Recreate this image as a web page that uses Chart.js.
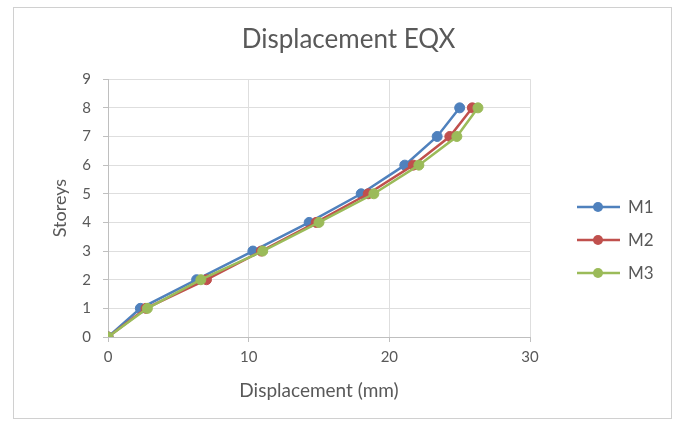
<!DOCTYPE html>
<html>
<head>
<meta charset="utf-8">
<script src="https://cdn.jsdelivr.net/npm/chart.js@4/dist/chart.umd.min.js"></script>
<style>
  html, body { margin: 0; padding: 0; background: #ffffff; }
  #wrap { width: 683px; height: 421px; }
</style>
</head>
<body>
<div id="wrap"><canvas id="c" width="683" height="421"></canvas></div>
<script>
// Storey levels and lateral displacement (mm) per model
const storeys = [0, 1, 2, 3, 4, 5, 6, 7, 8];
const m1 = [0, 2.3, 6.3, 10.3, 14.3, 18.0, 21.1, 23.4, 25.0];
const m2 = [0, 2.7, 7.0, 10.9, 14.8, 18.5, 21.7, 24.3, 25.9];
const m3 = [0, 2.8, 6.6, 11.0, 15.0, 18.9, 22.1, 24.8, 26.3];
const seriesNames = ['M1', 'M2', 'M3'];
const seriesColors = ['#4F81BD', '#C0504D', '#9BBB59'];

const FONT = 'Lato, "Liberation Sans", sans-serif';
const TEXT = '#595959';
const GRID = '#dedede';

const toPoints = vals => storeys.map((s, i) => ({ x: vals[i], y: s }));

const datasets = [m1, m2, m3].map((vals, i) => ({
  label: seriesNames[i],
  data: toPoints(vals),
  showLine: true,
  borderColor: seriesColors[i],
  backgroundColor: seriesColors[i],
  pointBackgroundColor: seriesColors[i],
  pointBorderColor: seriesColors[i],
  borderWidth: 2.5,
  pointRadius: 5,
  pointBorderWidth: 1,
  tension: 0,
  order: 3 - i // later series drawn on top
}));

// Frame around the whole chart
const framePlugin = {
  id: 'frame',
  beforeDraw(chart) {
    const ctx = chart.ctx;
    ctx.save();
    ctx.fillStyle = '#ffffff';
    ctx.fillRect(0, 0, chart.width, chart.height);
    ctx.strokeStyle = '#d0d0d0';
    ctx.lineWidth = 1;
    ctx.strokeRect(13.5, 7.5, 658, 411);
    ctx.restore();
  }
};

// Series key on the right: line with marker, then name
const keyPlugin = {
  id: 'seriesKey',
  afterDraw(chart) {
    const ctx = chart.ctx;
    ctx.save();
    chart.data.datasets.forEach((ds, i) => {
      const y = 207 + i * 33;
      ctx.strokeStyle = ds.borderColor;
      ctx.lineWidth = 2.5;
      ctx.beginPath();
      ctx.moveTo(577, y);
      ctx.lineTo(620, y);
      ctx.stroke();
      ctx.fillStyle = ds.backgroundColor;
      ctx.beginPath();
      ctx.arc(598, y, 5, 0, Math.PI * 2);
      ctx.fill();
      ctx.fillStyle = TEXT;
      ctx.font = '17px ' + FONT;
      ctx.textAlign = 'left';
      ctx.textBaseline = 'middle';
      ctx.fillText(ds.label, 628, y + 1);
    });
    ctx.restore();
  }
};

new Chart(document.getElementById('c'), {
  type: 'scatter',
  data: { datasets },
  options: {
    responsive: false,
    animation: false,
    layout: { padding: { left: 14, right: 0, top: 8, bottom: 8 } },
    plugins: {
      legend: { display: false },
      tooltip: { enabled: false },
      title: {
        display: true,
        text: 'Displacement EQX',
        color: TEXT,
        font: { family: FONT, size: 26, weight: 'normal' },
        padding: { top: 16, bottom: 24 }
      }
    },
    scales: {
      x: {
        type: 'linear',
        min: 0, max: 30,
        ticks: { stepSize: 10, color: TEXT, font: { family: FONT, size: 15 }, padding: 6 },
        grid: { color: GRID, tickColor: '#bfbfbf', tickLength: 5 },
        border: { color: '#bfbfbf' },
        title: {
          display: true,
          text: 'Displacement (mm)',
          color: TEXT,
          font: { family: FONT, size: 19 },
          padding: { top: 0, bottom: 11 }
        },
        afterFit(scale) { scale.height = 421 - 8 - 337; }
      },
      y: {
        type: 'linear',
        min: 0, max: 9,
        ticks: { stepSize: 1, color: TEXT, font: { family: FONT, size: 15 }, padding: 12 },
        grid: { color: GRID, tickColor: '#bfbfbf', tickLength: 5 },
        border: { color: '#bfbfbf' },
        title: {
          display: true,
          text: 'Storeys',
          color: TEXT,
          font: { family: FONT, size: 18 },
          padding: { top: 35, bottom: 0 }
        },
        afterFit(scale) { scale.width = 108 - 14; }
      },
      keySpace: {
        type: 'linear',
        position: 'right',
        display: true,
        ticks: { display: false },
        grid: { display: false },
        border: { display: false },
        afterFit(scale) { scale.width = 683 - 530; }
      }
    }
  },
  plugins: [framePlugin, keyPlugin]
});
</script>
</body>
</html>
